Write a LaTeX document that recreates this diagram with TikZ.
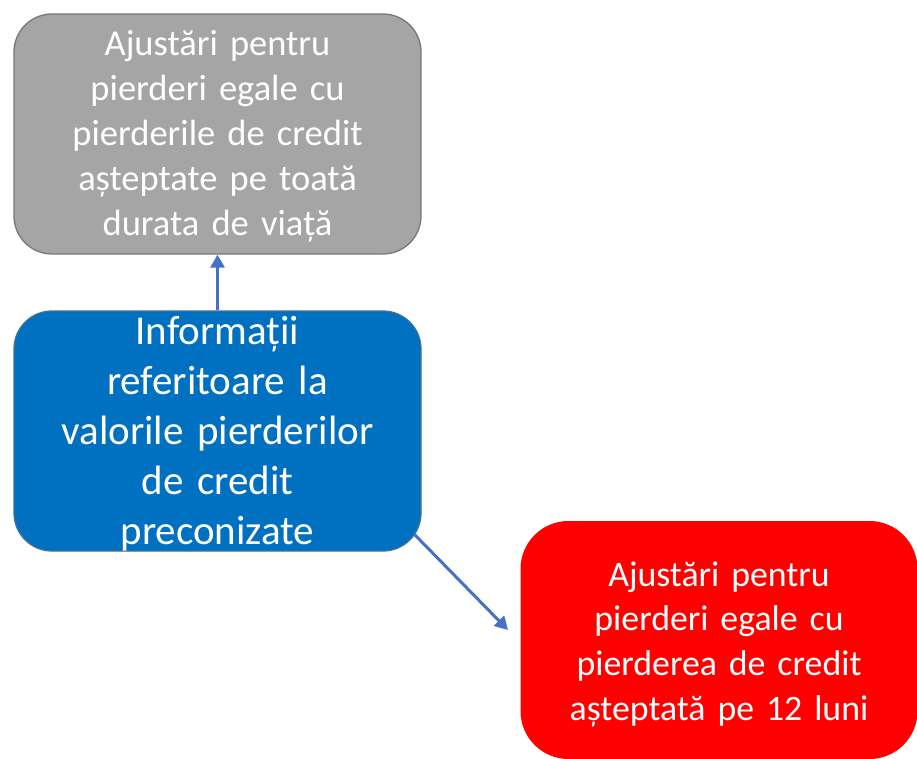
\documentclass[tikz,border=0pt]{standalone}
\usepackage{fontspec}
\setmainfont{Carlito}
\usetikzlibrary{arrows.meta}
\definecolor{grayfill}{HTML}{A5A5A5}
\definecolor{grayline}{HTML}{787878}
\definecolor{bluefill}{HTML}{0070C0}
\definecolor{blueline}{HTML}{41719C}
\definecolor{redfill}{HTML}{FF0000}
\definecolor{arrowcol}{HTML}{4472C4}
\begin{document}
\begin{tikzpicture}[x=1pt,y=-1pt,
  box/.style={rectangle, rounded corners=38pt, align=center, text=white, inner sep=0pt, line width=1.3pt},
  link/.style={draw=arrowcol, line width=3pt, -{Triangle[length=13pt,width=14pt]}}]
\useasboundingbox (0,0) rectangle (917,759);
\node[box, fill=grayfill, draw=grayline, minimum width=407pt, minimum height=240pt, text width=380pt,
  text height=20pt, text depth=176pt,
  font=\fontsize{36.5}{45}\selectfont] (gray) at (217.5,134)
  {Ajustări pentru\\pierderi egale cu\\pierderile de credit\\așteptate pe toată\\durata de viață};
\node[box, fill=bluefill, draw=blueline, minimum width=407pt, minimum height=240pt, text width=380pt,
  text height=20pt, text depth=194pt,
  font=\fontsize{41}{50}\selectfont] (blue) at (217.5,431)
  {Informații\\referitoare la\\valorile pierderilor\\de credit\\preconizate};
\node[box, rounded corners=48pt, fill=redfill, minimum width=397pt, minimum height=238pt, text width=380pt,
  text height=20pt, text depth=128pt,
  font=\fontsize{35.8}{44.7}\selectfont] (red) at (719,640)
  {Ajustări pentru\\pierderi egale cu\\pierderea de credit\\așteptată pe 12 luni};
\coordinate (tip) at (508,630);
\draw[link] (blue.north) -- (gray.south);
\draw[link] ([shift={(-7,-17)}]blue.south east) -- (tip);
\end{tikzpicture}
\end{document}
